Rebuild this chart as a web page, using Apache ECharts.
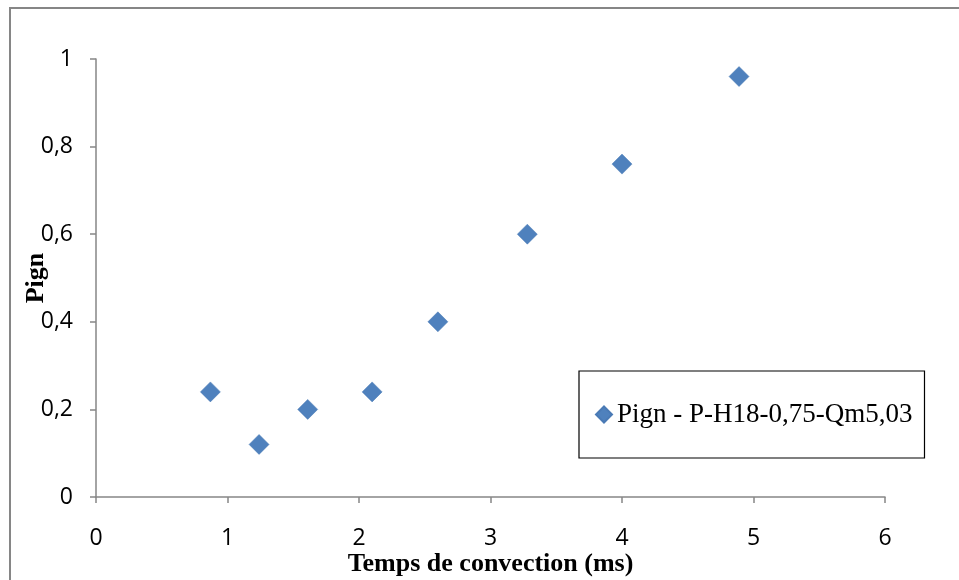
<!DOCTYPE html>
<html><head><meta charset="utf-8">
<script src="https://cdn.jsdelivr.net/npm/echarts@6/dist/echarts.min.js"></script>
<style>html,body{margin:0;padding:0;background:#fff}#c{width:959px;height:580px}</style>
</head><body><div id="c"></div>
<script>
const seriesName = 'Pign - P-H18-0,75-Qm5,03';
const xValues = [0.87, 1.24, 1.61, 2.1, 2.6, 3.28, 4.0, 4.89];
const yValues = [0.24, 0.12, 0.2, 0.24, 0.4, 0.6, 0.76, 0.96];
const xTitle = 'Temps de convection (ms)';
const yTitle = 'Pign';

const chart = echarts.init(document.getElementById('c'));
const axisColor = '#868686';
const serif = '"Liberation Serif", "DejaVu Serif", serif';
const tickFont = {fontFamily: '"Open Sans", "Liberation Sans", sans-serif', fontSize: 23, color: '#000'};
chart.setOption({
  animation: false,
  backgroundColor: '#fff',
  graphic: [{type: 'rect', shape: {x: 10, y: 8, width: 1200, height: 1200},
    style: {fill: 'none', stroke: axisColor, lineWidth: 2}, z: -1}],
  grid: {left: 96, right: 74, top: 59, bottom: 83, outerBoundsMode: 'none', containLabel: false},
  xAxis: {
    type: 'value', min: 0, max: 6, interval: 1,
    name: xTitle, nameLocation: 'middle', nameGap: 54, nameMoveOverlap: false,
    nameTextStyle: {fontFamily: serif, fontWeight: 'bold', fontSize: 26, color: '#000'},
    axisLine: {show: true, lineStyle: {color: axisColor, width: 1.5}},
    axisTick: {show: true, inside: false, length: 6, lineStyle: {color: axisColor, width: 1.5}},
    axisLabel: Object.assign({margin: 30}, tickFont),
    splitLine: {show: false}
  },
  yAxis: {
    type: 'value', min: 0, max: 1, interval: 0.2,
    name: yTitle, nameLocation: 'middle', nameGap: 47, nameRotate: 90, nameMoveOverlap: false,
    nameTextStyle: {fontFamily: serif, fontWeight: 'bold', fontSize: 26, color: '#000'},
    axisLine: {show: true, lineStyle: {color: axisColor, width: 1.5}},
    axisTick: {show: true, inside: false, length: 6, lineStyle: {color: axisColor, width: 1.5}},
    axisLabel: Object.assign({margin: 23, formatter: v => String(v).replace('.', ',')}, tickFont),
    splitLine: {show: false}
  },
  legend: {
    left: 579, top: 371,
    data: [seriesName],
    icon: 'diamond', itemWidth: 16, itemHeight: 16, itemGap: 4,
    borderColor: '#000', borderWidth: 1.2, borderRadius: 0,
    padding: [30, 12, 30, 16],
    itemStyle: {opacity: 1},
    textStyle: {fontFamily: serif, fontSize: 27, color: '#000'}
  },
  series: [{
    name: seriesName, type: 'scatter', symbol: 'diamond', symbolSize: 20,
    itemStyle: {color: '#4F81BD', opacity: 1, borderColor: '#4a7ab5', borderWidth: 0.5},
    data: xValues.map((x, i) => [x, yValues[i]])
  }]
});
</script></body></html>
